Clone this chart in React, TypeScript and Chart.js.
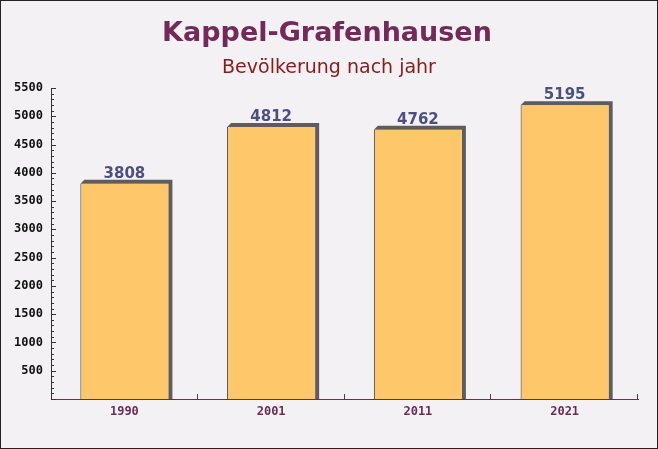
import React, { useEffect, useRef } from "react";
import { Chart, registerables } from "chart.js";

Chart.register(...registerables);

const categories = ["1990", "2001", "2011", "2021"];
const population = [3808, 4812, 4762, 5195];
const titleText = "Kappel-Grafenhausen";
const subtitleText = "Bevölkerung nach jahr";

const decoPlugin = {
  id: "deco",
  beforeDraw(chart: any) {
    const { ctx, width, height } = chart;
    ctx.save();
    ctx.fillStyle = "#f3f1f3";
    ctx.fillRect(0, 0, width, height);
    ctx.textAlign = "center";
    ctx.textBaseline = "alphabetic";
    ctx.fillStyle = "#742a58";
    ctx.font = "bold 27px 'DejaVu Sans'";
    ctx.fillText(titleText, 327, 41);
    ctx.fillStyle = "#8b1a1a";
    ctx.font = "19px 'DejaVu Sans'";
    ctx.fillText(subtitleText, 329, 73);
    ctx.restore();
  },
  beforeDatasetsDraw(chart: any) {
    const { ctx } = chart;
    const meta = chart.getDatasetMeta(0);
    const d = 4;
    ctx.save();
    ctx.fillStyle = "#5f5b5e";
    meta.data.forEach((bar: any) => {
      const half = bar.width / 2;
      const l = bar.x - half;
      const r = bar.x + half;
      const t = bar.y;
      const b = bar.base;
      ctx.beginPath();
      ctx.moveTo(l, t);
      ctx.lineTo(l + d, t - d);
      ctx.lineTo(r + d, t - d);
      ctx.lineTo(r + d, b);
      ctx.lineTo(r, b);
      ctx.lineTo(r, t);
      ctx.closePath();
      ctx.fill();
    });
    ctx.restore();
  },
  afterDatasetsDraw(chart: any) {
    const { ctx } = chart;
    const meta = chart.getDatasetMeta(0);
    ctx.save();
    ctx.fillStyle = "#4c4f80";
    ctx.font = "bold 15px 'DejaVu Sans'";
    ctx.textAlign = "center";
    ctx.textBaseline = "alphabetic";
    meta.data.forEach((bar: any, i: number) => {
      ctx.fillText(String(population[i]), bar.x, bar.y - 6);
    });
    ctx.restore();
  },
  afterDraw(chart: any) {
    const { ctx, width, height, chartArea } = chart;
    const y = chart.scales.y;
    const x = chart.scales.x;
    ctx.save();
    ctx.strokeStyle = "#333333";
    ctx.lineWidth = 1;
    for (let v = 0; v <= 5500; v += 100) {
      const py = Math.round(y.getPixelForValue(v)) + 0.5;
      const len = v % 500 === 0 ? 5 : 3;
      ctx.beginPath();
      ctx.moveTo(chartArea.left, py);
      ctx.lineTo(chartArea.left + len, py);
      ctx.stroke();
    }
    ctx.strokeStyle = "#6b2d50";
    const step = x.getPixelForValue(1) - x.getPixelForValue(0);
    for (let i = 0; i < categories.length; i++) {
      const px = Math.round(x.getPixelForValue(i) + step / 2) - 0.5;
      ctx.beginPath();
      ctx.moveTo(px, chartArea.bottom);
      ctx.lineTo(px, chartArea.bottom - 5);
      ctx.stroke();
    }
    ctx.strokeStyle = "#222222";
    ctx.strokeRect(0.5, 0.5, width - 1, height - 1);
    ctx.restore();
  },
};

export default function App() {
  const ref = useRef<HTMLCanvasElement | null>(null);
  useEffect(() => {
    document.body.style.margin = "0";
    if (!ref.current) return;
    const chart = new Chart(ref.current, {
      type: "bar",
      data: {
        labels: categories,
        datasets: [
          {
            data: population,
            backgroundColor: "rgba(253, 196, 98, 0.95)",
            borderColor: "#3b3b3b",
            borderWidth: { left: 1, top: 0, right: 0, bottom: 0 },
            categoryPercentage: 1,
            barPercentage: 0.6,
          },
        ],
      },
      options: {
        animation: false,
        responsive: true,
        maintainAspectRatio: false,
        layout: { padding: { top: 88, left: 0, right: 20, bottom: 0 } },
        plugins: {
          legend: { display: false },
          tooltip: { enabled: false },
          title: { display: false },
        },
        scales: {
          x: {
            grid: { display: false, drawTicks: false },
            border: { display: true, color: "#6b2d50", width: 1 },
            ticks: {
              color: "#6b2d55",
              font: { family: "'DejaVu Sans Mono'", size: 12, weight: "bold" },
              padding: 6,
            },
            afterFit(scale: any) {
              scale.height = 50;
            },
          },
          y: {
            min: 0,
            max: 5500,
            grid: { display: false, drawTicks: false },
            border: { display: true, color: "#333333", width: 1 },
            ticks: {
              stepSize: 100,
              autoSkip: false,
              color: "#111111",
              padding: 8,
              font: { family: "'DejaVu Sans Mono'", size: 12, weight: "bold" },
              callback: (v: any) => (v !== 0 && v % 500 === 0 ? String(v) : ""),
            },
            afterFit(scale: any) {
              scale.width = 51;
            },
          },
        },
      },
      plugins: [decoPlugin],
    });
    return () => chart.destroy();
  }, []);
  return (
    <div style={{ width: 658, height: 449, position: "relative" }}>
      <canvas ref={ref} />
    </div>
  );
}
